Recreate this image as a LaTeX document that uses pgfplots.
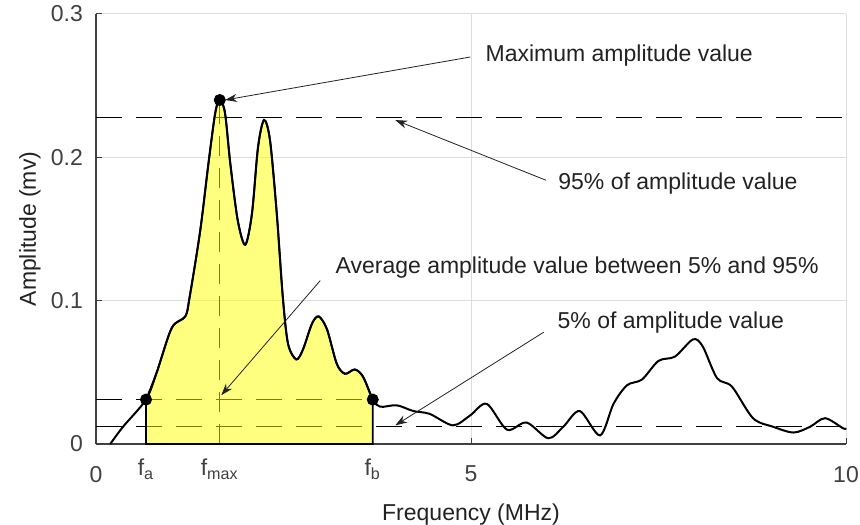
\documentclass[border=0pt]{standalone}
\usepackage{pgfplots}
\pgfplotsset{compat=1.18}
\usepackage{pgfplotstable}
\usepackage{fontspec}
\setmainfont{Liberation Sans}
\usetikzlibrary{arrows.meta}

\definecolor{txt}{HTML}{222222}
\definecolor{tck}{HTML}{404040}
\definecolor{gridc}{HTML}{DDDDDD}
\definecolor{fillc}{HTML}{FFFF00}

% spectrum: frequency (MHz), amplitude (mv)
\pgfplotstableread{
f     a
0.19  0.000
0.36  0.012
0.667 0.031
0.81  0.050
1.01  0.081
1.19  0.089
1.25  0.103
1.39  0.149
1.50  0.196
1.59  0.231
1.65  0.240
1.72  0.231
1.79  0.196
1.89  0.156
1.99  0.139
2.08  0.161
2.16  0.207
2.24  0.226
2.32  0.212
2.41  0.161
2.49  0.103
2.56  0.070
2.67  0.059
2.76  0.066
2.88  0.084
2.97  0.089
3.08  0.080
3.21  0.056
3.32  0.049
3.45  0.052
3.56  0.047
3.69  0.031
3.79  0.026
4.01  0.027
4.23  0.023
4.45  0.021
4.76  0.013
4.99  0.020
5.21  0.028
5.48  0.010
5.74  0.015
6.03  0.004
6.23  0.012
6.45  0.023
6.72  0.006
6.90  0.028
7.08  0.041
7.28  0.045
7.50  0.058
7.72  0.061
7.96  0.073
8.09  0.068
8.28  0.046
8.48  0.040
8.76  0.018
9.03  0.012
9.30  0.008
9.52  0.012
9.72  0.018
9.96  0.011
10.0  0.011
}\spec

\begin{document}
\begin{tikzpicture}[font=\fontsize{11.5}{13}\selectfont]
\begin{axis}[
    scale only axis,
    width=375pt, height=215pt,
    xmin=0, xmax=10, ymin=0, ymax=0.3,
    axis x line=bottom, axis y line=left,
    axis line style={-, tck, line width=0.6pt},
    tick align=inside,
    major tick length=3pt,
    tick style={tck, line width=0.5pt},
    xtick={0,5,10}, ytick={0,0.1,0.2,0.3},
    extra x ticks={0.667,1.65,3.69},
    extra x tick labels={f\textsubscript{a},f\textsubscript{max},f\textsubscript{b}},
    extra x tick style={grid=none, xticklabel style={yshift=3.5pt}},
    xticklabel style={yshift=-7.5pt, text=tck},
    yticklabel style={xshift=-3pt, text=tck},
    /pgf/number format/assume math mode=true,
    grid=major,
    major grid style={gridc, line width=0.5pt},
    xlabel={Frequency (MHz)},
    ylabel={Amplitude (mv)},
    xlabel style={at={(axis description cs:0.5,-0.163)}, anchor=center, text=txt},
    ylabel style={at={(axis description cs:-0.088,0.5)}, anchor=center, text=txt},
    clip=false,
]
% reference levels
\addplot[black, line width=0.6pt, dash pattern=on 13pt off 7pt] coordinates {(0,0.228) (10,0.228)};
\addplot[black, line width=0.6pt, dash pattern=on 13pt off 7pt] coordinates {(0,0.012) (10,0.012)};
\addplot[black, line width=0.6pt, dash pattern=on 13pt off 7pt] coordinates {(0,0.031) (3.69,0.031)};
\addplot[black, line width=0.6pt, dash pattern=on 10pt off 6pt] coordinates {(1.65,0) (1.65,0.240)};
% marked points
\addplot[only marks, mark=*, mark size=2.8pt, black] coordinates {(0.667,0.031) (1.65,0.240) (3.69,0.031)};
% band between fa and fb
\addplot[fill=fillc, fill opacity=0.5, draw=black, line width=0.9pt, smooth, tension=0.5,
    restrict x to domain=0.667:3.69] table[x=f, y=a] {\spec} \closedcycle;
% spectrum
\addplot[black, line width=1pt, smooth, tension=0.5] table[x=f, y=a] {\spec};

% annotations
\draw[-{Stealth[length=6pt,width=4pt]}, txt, line width=0.4pt] (axis cs:4.99,0.270) -- (axis cs:1.72,0.240);
\node[anchor=west, text=txt, inner sep=0pt] at (axis cs:5.19,0.271) {Maximum amplitude value};
\draw[-{Stealth[length=6pt,width=4pt]}, txt, line width=0.4pt] (axis cs:6.00,0.184) -- (axis cs:3.99,0.226);
\node[anchor=west, text=txt, inner sep=0pt] at (axis cs:6.16,0.182) {95\% of amplitude value};
\draw[-{Stealth[length=6pt,width=4pt]}, txt, line width=0.4pt] (axis cs:2.99,0.114) -- (axis cs:1.67,0.034);
\node[anchor=west, text=txt, inner sep=0pt] at (axis cs:3.19,0.123) {Average amplitude value between 5\% and 95\%};
\draw[-{Stealth[length=6pt,width=4pt]}, txt, line width=0.4pt] (axis cs:5.97,0.078) -- (axis cs:3.99,0.013);
\node[anchor=west, text=txt, inner sep=0pt] at (axis cs:6.15,0.085) {5\% of amplitude value};
\end{axis}
\pgfresetboundingbox
\path (-48pt,-40pt) rectangle (382pt,222pt);
\end{tikzpicture}
\end{document}
